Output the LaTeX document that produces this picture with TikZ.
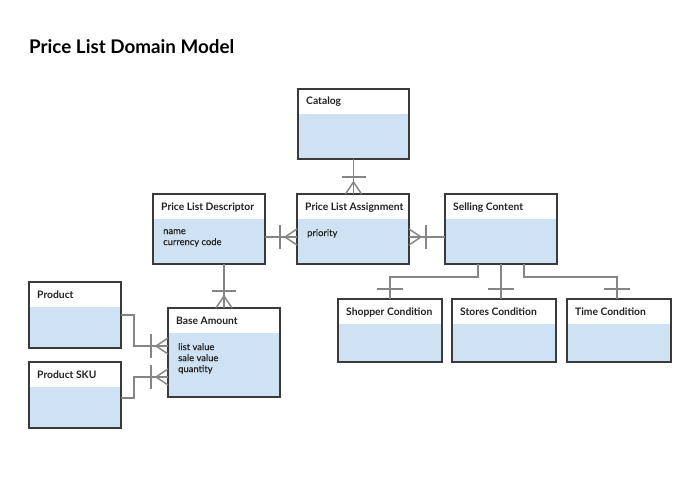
\documentclass[tikz,border=0pt]{standalone}
\usepackage{fontspec}
\setmainfont{Lato}
\newfontfamily\bodyfont[FakeBold=0.5]{Lato}
\definecolor{boxc}{HTML}{3A3A3A}
\definecolor{bodyc}{HTML}{CFE2F3}
\definecolor{linec}{HTML}{858585}
\definecolor{txtc}{HTML}{222222}
\tikzset{
  ent/.style={draw=boxc, line width=2pt, fill=white, inner sep=0pt, outer sep=0pt,
    path picture={\fill[bodyc] ([yshift=-24.5pt]path picture bounding box.north west) rectangle (path picture bounding box.south east);}},
  hdr/.style={font=\fontsize{10.3}{11}\selectfont\bfseries, text=txtc, inner sep=0pt, anchor=base west},
  bodytxt/.style={font=\bodyfont\fontsize{9.4}{11}\selectfont, text=txtc, inner sep=0pt, anchor=north west, align=left},
  ttl/.style={font=\fontsize{18.8}{22}\selectfont\bfseries, text=black, inner sep=0pt, anchor=base west},
  conn/.style={draw=linec, line width=1.5pt}
}
\newcommand{\entity}[6]{%
  \node[ent, minimum width=#4pt, minimum height=#5pt, anchor=north west] (#1) at (#2,#3) {};
  \node[hdr] (#1-t) at ([xshift=8pt,yshift=-16pt]#1.north west) {#6};
}
\newcommand{\crowtick}[2]{%
  \begin{scope}[shift={(#1)}, rotate=#2]
    \draw[conn] (0,8) -- (12,0) -- (0,-8);
    \draw[conn] (17,12) -- (17,-12);
  \end{scope}}
\newcommand{\tickonly}[2]{%
  \begin{scope}[shift={(#1)}, rotate=#2]
    \draw[conn] (10,13) -- (10,-13);
  \end{scope}}
\begin{document}
\begin{tikzpicture}[x=1pt, y=-1pt]
\useasboundingbox (0,0) rectangle (700,484);
\fill[white] (0,0) rectangle (700,484);

\node[ttl] (title) at (29,54) {Price List Domain Model};

\entity{cat}{298}{89}{111}{70}{Catalog}
\entity{pld}{153}{194}{112}{70}{Price List Descriptor}
\entity{pla}{297}{194}{112}{70}{Price List Assignment}
\entity{sc}{445}{194}{112}{70}{Selling Content}
\entity{sh}{338}{299}{104}{63}{Shopper Condition}
\entity{st}{452}{299}{104}{63}{Stores Condition}
\entity{tc}{567}{299}{104}{63}{Time Condition}
\entity{prod}{29}{282}{92}{66}{Product}
\entity{sku}{29}{362}{92}{66}{Product SKU}
\entity{ba}{168}{308}{112}{89}{Base Amount}

\node[bodytxt] (pld-b) at ([xshift=10pt,yshift=-35pt]pld.north west) {name\\currency code};
\node[bodytxt] (pla-b) at ([xshift=10pt,yshift=-35pt]pla.north west) {priority};
\node[bodytxt] (ba-b) at ([xshift=10pt,yshift=-35pt]ba.north west) {list value\\sale value\\quantity};

% connectors
\draw[conn] (cat.south) -- (cat.south |- pla.north);
\crowtick{cat.south |- pla.north}{90}

\draw[conn] ([yshift=-8pt]pld.east) -- ([yshift=-8pt]pla.west);
\crowtick{[yshift=-8pt]pla.west}{180}

\draw[conn] ([yshift=-8pt]pla.east) -- ([yshift=-8pt]sc.west);
\crowtick{[yshift=-8pt]pla.east}{0}

\draw[conn] (ba.north |- pld.south) -- (ba.north);
\crowtick{ba.north}{90}

\draw[conn] (prod.east) -- ++(13,0) |- ([yshift=6.5pt]ba.west);
\crowtick{[yshift=6.5pt]ba.west}{180}

\draw[conn] ([yshift=-3pt]sku.east) -- ++(13,0) |- ([yshift=-24.5pt]ba.west);
\crowtick{[yshift=-24.5pt]ba.west}{180}

\draw[conn] ([xshift=-23pt]sc.south) -- ++(0,13) -| (sh.north);
\tickonly{sh.north}{90}
\draw[conn] (sc.south) -- (sc.south |- st.north);
\tickonly{sc.south |- st.north}{90}
\draw[conn] ([xshift=23pt]sc.south) -- ++(0,13) -| ([xshift=-2pt]tc.north);
\tickonly{[xshift=-2pt]tc.north}{90}
\end{tikzpicture}
\end{document}
